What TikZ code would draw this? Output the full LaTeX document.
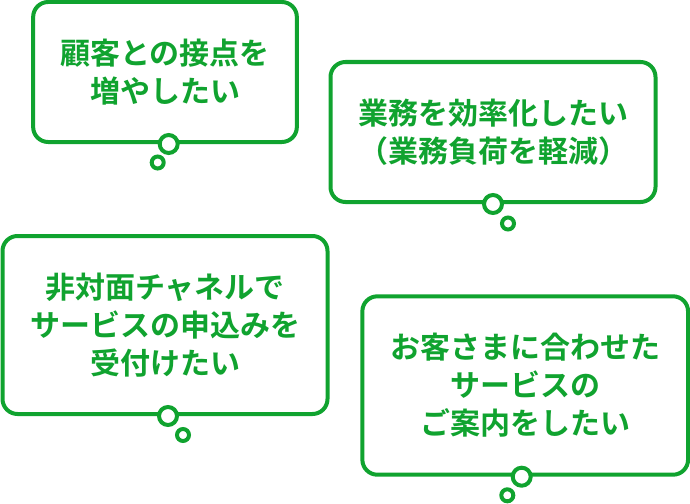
\documentclass[tikz,border=0pt]{standalone}
\usepackage{fontspec}
\setmainfont{Noto Sans CJK JP}[BoldFont={Noto Sans CJK JP Bold}]
\definecolor{bubblegreen}{HTML}{10A32F}
\begin{document}
\begin{tikzpicture}[x=1pt,y=-1pt]
\tikzset{bubble/.style={draw=bubblegreen, line width=4pt, rounded corners=15pt, fill=white, inner sep=0pt, text=bubblegreen, align=center, font=\fontsize{30pt}{38pt}\selectfont\bfseries},
         dot/.style={circle, draw=bubblegreen, line width=4pt, fill=white, inner sep=0pt}}
\useasboundingbox (0,0) rectangle (690,503);
\node[bubble, minimum width=263.7pt, minimum height=140pt] (need1) at (165,72) {顧客との接点を\\増やしたい};
\node[bubble, minimum width=325pt, minimum height=140pt] (need2) at (493,132) {業務を効率化したい\\（業務負荷を軽減）};
\node[bubble, minimum width=325pt, minimum height=178pt] (need3) at (165,325) {非対面チャネルで\\サービスの申込みを\\受付けたい};
\node[bubble, minimum width=325.7pt, minimum height=178.4pt] (need4) at (525.2,385.5) {お客さまに合わせた\\サービスの\\ご案内をしたい};
\node[dot, minimum size=18pt] (big1) at (168.7,144) {};
\node[dot, minimum size=12pt] (small1) at (157.7,162.5) {};
\node[dot, minimum size=18pt] (big2) at (493,204) {};
\node[dot, minimum size=12pt] (small2) at (508,223.5) {};
\node[dot, minimum size=18pt] (big3) at (168,416) {};
\node[dot, minimum size=12pt] (small3) at (183,435) {};
\node[dot, minimum size=18pt] (big4) at (521.7,476.7) {};
\node[dot, minimum size=12pt] (small4) at (507.3,495.3) {};
\end{tikzpicture}
\end{document}
